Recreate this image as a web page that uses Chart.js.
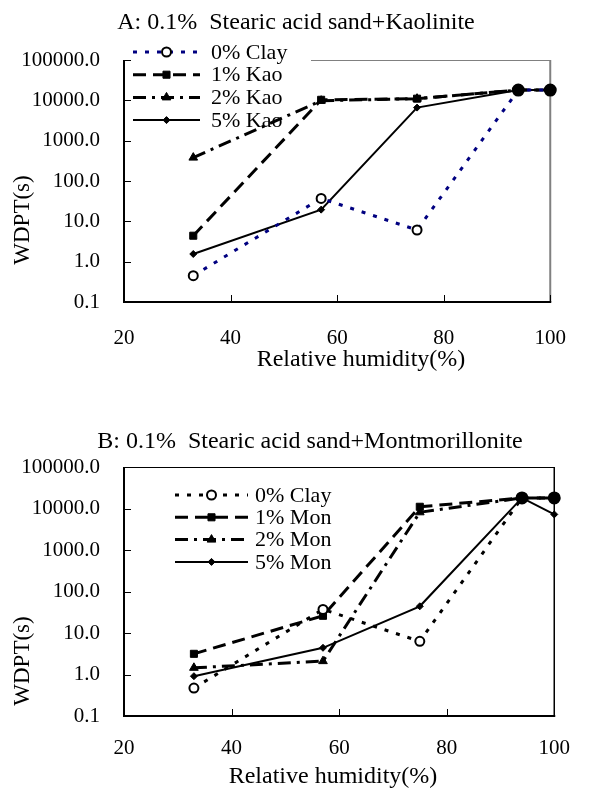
<!DOCTYPE html>
<html>
<head>
<meta charset="utf-8">
<script src="https://cdn.jsdelivr.net/npm/chart.js@4.4.1/dist/chart.umd.min.js"></script>
<style>
  html, body { margin: 0; padding: 0; background: #fff; }
  .panel { position: absolute; left: 0; width: 590px; height: 395px; }
  #panelA { top: 0; }
  #panelB { top: 395px; }
</style>
</head>
<body>
<div class="panel" id="panelA"><canvas id="chartA" width="590" height="395"></canvas></div>
<div class="panel" id="panelB"><canvas id="chartB" width="590" height="395"></canvas></div>
<script>
// ---- data ----
var humidity = [33, 57, 75, 94, 100];
var yTickValues = [0.1, 1, 10, 100, 1000, 10000, 100000];
var xTickValues = [20, 40, 60, 80, 100];

var kaoLabels = ["0% Clay", "1% Kao", "2% Kao", "5% Kao"];
var kaoClay = [0.45, 37, 6.1, 18000, 18000];
var kao1 = [4.4, 10300, 11000, 18000, 18000];
var kao2 = [380, 9800, 11000, 18000, 18000];
var kao5 = [1.55, 19.5, 6600, 18000, 18000];

var monLabels = ["0% Clay", "1% Mon", "2% Mon", "5% Mon"];
var monClay = [0.47, 37, 6.3, 18000, 18000];
var mon1 = [3.15, 26, 11000, 18000, 18000];
var mon2 = [1.45, 2.1, 8100, 18000, 18000];
var mon5 = [0.91, 4.4, 44, 18000, 7200];

(function () {
  "use strict";

  var SERIF = "'Liberation Serif', 'Times New Roman', serif";

  // line looks shared by both panels (clay colour differs per panel)
  function clayStyle(color) {
    return { borderColor: color, borderWidth: 3, borderDash: [4, 8], pointStyle: "circle",
             pointRadius: [4.5, 4.5, 4.5, 5.5, 5.5], pointBorderWidth: 2,
             pointBackgroundColor: ["#fff", "#fff", "#fff", "#000", "#000"] };
  }
  var oneStyle  = { borderWidth: 3, borderDash: [13, 7], pointStyle: "rect", pointRadius: 5 };
  var twoStyle  = { borderWidth: 3, borderDash: [13, 6, 3, 6], pointStyle: "triangle", pointRadius: 5 };
  var fiveStyle = { borderWidth: 2, borderDash: [], pointStyle: "rectRot", pointRadius: 3.5 };

  function series(label, values, style) {
    return Object.assign({
      label: label,
      data: values.map(function (v, i) { return { x: humidity[i], y: v }; }),
      borderColor: "#000",
      backgroundColor: "#000",
      pointBorderColor: "#000",
      pointBackgroundColor: "#000",
      pointBorderWidth: 1,
      tension: 0,
      fill: false,
      clip: false
    }, style);
  }

  // frame, inward tick marks, in-plot key and the free-standing texts
  var panelPlugin = {
    id: "panel",
    beforeDatasetsDraw: function (chart, args, o) {
      var ctx = chart.ctx, a = chart.chartArea;
      var xs = chart.scales.x, ys = chart.scales.y;
      ctx.save();
      ctx.setLineDash([]);
      ctx.strokeStyle = o.frameColor;
      ctx.lineWidth = 1;
      ctx.beginPath(); ctx.moveTo(a.left, a.top + 0.5); ctx.lineTo(a.right, a.top + 0.5); ctx.stroke();
      ctx.lineWidth = o.rightWidth;
      ctx.beginPath(); ctx.moveTo(a.right, a.top); ctx.lineTo(a.right, a.bottom); ctx.stroke();
      ctx.strokeStyle = "#000";
      ctx.lineWidth = 2;
      ctx.beginPath(); ctx.moveTo(a.left, a.top); ctx.lineTo(a.left, a.bottom); ctx.lineTo(a.right + 1, a.bottom); ctx.stroke();

      var L = o.legend;
      if (L.box) { ctx.fillStyle = "#fff"; ctx.fillRect(L.box[0], L.box[1], L.box[2], L.box[3]); }

      ctx.lineWidth = 1;
      ctx.beginPath();
      ys.ticks.forEach(function (t) {
        var y = Math.round(ys.getPixelForValue(t.value)) + 0.5;
        ctx.moveTo(a.left, y); ctx.lineTo(a.left + 7, y);
      });
      xs.ticks.forEach(function (t) {
        var x = Math.round(xs.getPixelForValue(t.value)) + 0.5;
        ctx.moveTo(x, a.bottom); ctx.lineTo(x, a.bottom - 7);
      });
      ctx.stroke();

      // key: dashed sample line with the marker in its middle
      ctx.font = "22px " + SERIF;
      ctx.textBaseline = "middle";
      ctx.textAlign = "left";
      chart.data.datasets.forEach(function (d, i) {
        var y = L.top + i * L.step;
        ctx.strokeStyle = d.borderColor;
        ctx.lineWidth = d.borderWidth;
        ctx.setLineDash(d.borderDash);
        ctx.beginPath(); ctx.moveTo(L.from, y); ctx.lineTo(L.to, y); ctx.stroke();
        ctx.setLineDash([]);
        var bg = Array.isArray(d.pointBackgroundColor) ? d.pointBackgroundColor[0] : d.pointBackgroundColor;
        var r = Array.isArray(d.pointRadius) ? d.pointRadius[0] : d.pointRadius;
        ctx.fillStyle = bg;
        ctx.strokeStyle = d.pointBorderColor;
        ctx.lineWidth = d.pointBorderWidth;
        Chart.helpers.drawPoint(ctx, { pointStyle: d.pointStyle, radius: r, rotation: 0,
                                       borderWidth: d.pointBorderWidth }, (L.from + L.to) / 2, y);
        ctx.fillStyle = "#000";
        ctx.fillText(d.label, L.text, y + 1);
      });
      ctx.restore();
    },
    afterDraw: function (chart, args, o) {
      var ctx = chart.ctx;
      ctx.save();
      ctx.fillStyle = "#000";
      ctx.textAlign = "center";
      ctx.textBaseline = "middle";
      ctx.font = "24px " + SERIF;
      ctx.fillText(o.title.text, o.title.x, o.title.y);
      ctx.fillText(o.xTitle.text, o.xTitle.x, o.xTitle.y);
      ctx.translate(o.yTitle.x, o.yTitle.y);
      ctx.rotate(-Math.PI / 2);
      ctx.font = "23px " + SERIF;
      ctx.fillText(o.yTitle.text, 0, 0);
      ctx.restore();
    }
  };

  function makeChart(id, datasets, cfg) {
    return new Chart(document.getElementById(id).getContext("2d"), {
      type: "line",
      data: { datasets: datasets },
      plugins: [panelPlugin],
      options: {
        responsive: false,
        devicePixelRatio: 1,
        animation: false,
        events: [],
        layout: { padding: { left: 0, right: cfg.padRight, top: cfg.padTop, bottom: 0 } },
        scales: {
          x: {
            type: "linear",
            min: 20,
            max: 100,
            afterBuildTicks: function (s) { s.ticks = xTickValues.map(function (v) { return { value: v }; }); },
            afterFit: function (s) { s.height = cfg.xAxisHeight; },
            ticks: { color: "#000", font: { family: SERIF, size: 21 }, padding: cfg.xLabelPad,
                     maxRotation: 0, autoSkip: false },
            grid: { display: false, drawTicks: false },
            border: { display: false }
          },
          y: {
            type: "logarithmic",
            min: 0.1,
            max: 100000,
            afterBuildTicks: function (s) { s.ticks = yTickValues.map(function (v) { return { value: v }; }); },
            afterFit: function (s) { s.width = 124; },
            ticks: { color: "#000", font: { family: SERIF, size: 21 }, padding: 24,
                     callback: function (v) { return Number(v).toFixed(1); } },
            grid: { display: false, drawTicks: false },
            border: { display: false }
          }
        },
        plugins: {
          legend: { display: false },
          title: { display: false },
          tooltip: { enabled: false },
          panel: cfg.panel
        }
      }
    });
  }

  function start() {
    makeChart("chartA", [
      series(kaoLabels[0], kaoClay, clayStyle("#000080")),
      series(kaoLabels[1], kao1, oneStyle),
      series(kaoLabels[2], kao2, twoStyle),
      series(kaoLabels[3], kao5, fiveStyle)
    ], {
      padTop: 60, padRight: 19, xAxisHeight: 93, xLabelPad: 24,
      panel: {
        frameColor: "#808080", rightWidth: 2,
        title: { text: "A: 0.1%  Stearic acid sand+Kaolinite", x: 296, y: 23 },
        xTitle: { text: "Relative humidity(%)", x: 361, y: 360 },
        yTitle: { text: "WDPT(s)", x: 23, y: 220 },
        legend: { from: 133, to: 200, text: 211, top: 52, step: 22.7, box: [126, 40, 185, 92] }
      }
    });

    makeChart("chartB", [
      series(monLabels[0], monClay, clayStyle("#000")),
      series(monLabels[1], mon1, oneStyle),
      series(monLabels[2], mon2, twoStyle),
      series(monLabels[3], mon5, fiveStyle)
    ], {
      padTop: 72, padRight: 23, xAxisHeight: 74, xLabelPad: 20,
      panel: {
        frameColor: "#000", rightWidth: 1.5,
        title: { text: "B: 0.1%  Stearic acid sand+Montmorillonite", x: 310, y: 47 },
        xTitle: { text: "Relative humidity(%)", x: 333, y: 382 },
        yTitle: { text: "WDPT(s)", x: 23, y: 266 },
        legend: { from: 175, to: 248, text: 255, top: 100, step: 22.3, box: null }
      }
    });
  }

  if (document.readyState === "loading") {
    document.addEventListener("DOMContentLoaded", start);
  } else { start(); }
})();
</script>
</body>
</html>
